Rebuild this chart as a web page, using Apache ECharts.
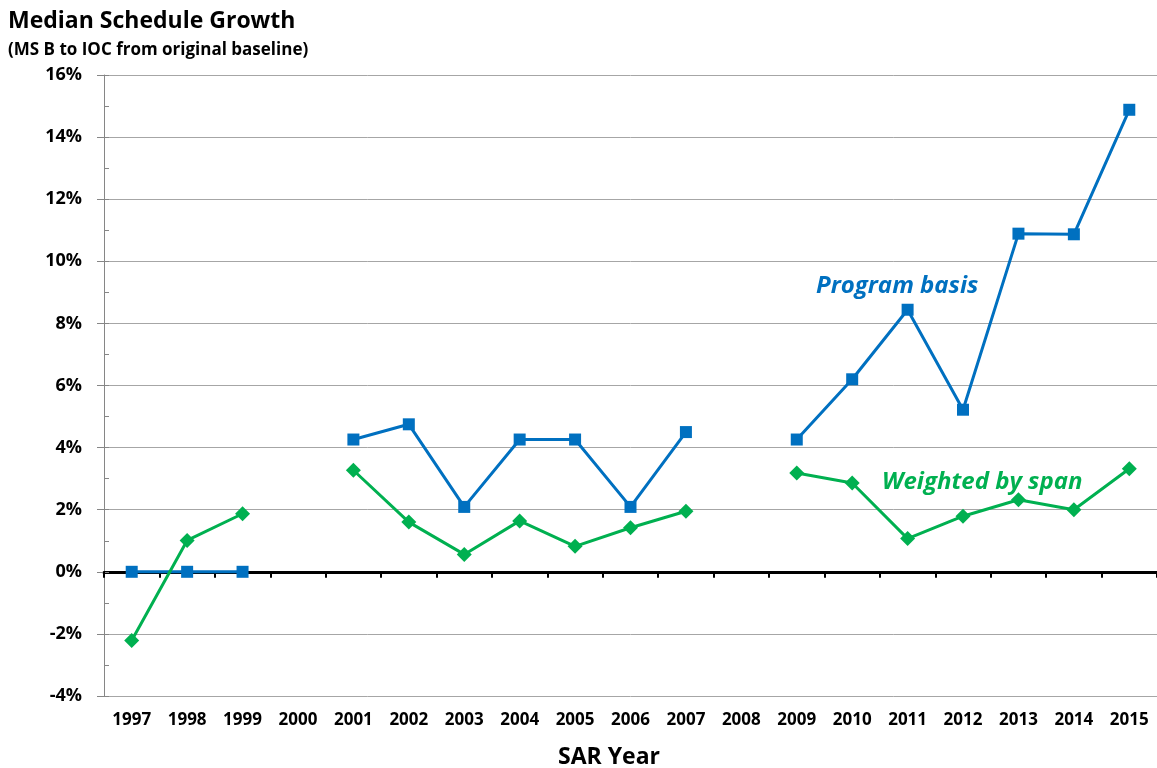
<!DOCTYPE html>
<html>
<head>
<meta charset="utf-8">
<script src="https://cdn.jsdelivr.net/npm/echarts@6/dist/echarts.min.js"></script>
<style>
  html, body { margin: 0; padding: 0; background: #fff; }
  #chart { width: 1157px; height: 768px; }
</style>
</head>
<body>
<div id="chart"></div>
<script>
const years = ['1997', '1998', '1999', '2000', '2001', '2002', '2003', '2004', '2005', '2006',
  '2007', '2008', '2009', '2010', '2011', '2012', '2013', '2014', '2015']
// percent values, null = no data that year
const programBasis = [0, 0, 0, null, 4.26, 4.75, 2.09, 4.26, 4.26, 2.09,
  4.5, null, 4.26, 6.2, 8.44, 5.22, 10.89, 10.87, 14.88]
const weightedBySpan = [-2.21, 1.01, 1.87, null, 3.27, 1.6, 0.56, 1.64, 0.82, 1.42,
  1.95, null, 3.18, 2.86, 1.07, 1.79, 2.32, 2.0, 3.32]

const BLUE = '#0070C0'
const GREEN = '#00B050'
const FONT = '"Open Sans", Lato, sans-serif'

const chart = echarts.init(document.getElementById('chart'), null, { renderer: 'canvas' })

chart.setOption({
  animation: false,
  textStyle: { fontFamily: FONT },
  title: [
    {
      text: 'Median Schedule Growth',
      left: 3,
      top: 5,
      textStyle: { fontFamily: FONT, fontSize: 23, fontWeight: 'bold', color: '#000' }
    },
    {
      text: '(MS B to IOC from original baseline)',
      left: 3,
      top: 37,
      textStyle: { fontFamily: FONT, fontSize: 17, fontWeight: 'bold', color: '#000' }
    },
    {
      text: 'SAR Year',
      left: 553,
      top: 741,
      textStyle: { fontFamily: FONT, fontSize: 23, fontWeight: 'bold', color: '#000' }
    }
  ],
  graphic: [
    {
      type: 'text',
      x: 816,
      y: 286,
      style: { text: 'Program basis', fill: BLUE, font: 'italic bold 24px ' + FONT, verticalAlign: 'middle' }
    },
    {
      type: 'text',
      x: 882,
      y: 482,
      style: { text: 'Weighted by span', fill: GREEN, font: 'italic bold 24px ' + FONT, verticalAlign: 'middle' }
    }
  ],
  grid: { left: 104, right: 0, top: 75, bottom: 72, containLabel: false },
  xAxis: [
    {
      type: 'category',
      data: years,
      position: 'bottom',
      axisLine: { show: false, onZero: false },
      axisTick: { show: false },
      axisLabel: {
        color: '#000',
        fontFamily: FONT,
        fontSize: 17,
        fontWeight: 'bold',
        margin: 16,
        interval: 0
      },
      splitLine: { show: false }
    },
    {
      // black zero line with tick marks at category boundaries
      type: 'category',
      data: years,
      position: 'bottom',
      axisLine: { show: true, onZero: true, onZeroAxisIndex: 0, lineStyle: { color: '#000', width: 3 } },
      axisTick: { show: true, length: 6, lineStyle: { color: '#000', width: 2 } },
      axisLabel: { show: false },
      splitLine: { show: false }
    }
  ],
  yAxis: [
    {
      type: 'value',
      min: -4,
      max: 16,
      interval: 2,
      axisLine: { show: true, lineStyle: { color: '#868686', width: 1 } },
      axisTick: { show: true, length: 7, lineStyle: { color: '#868686' } },
      axisLabel: {
        color: '#000',
        fontFamily: FONT,
        fontSize: 18,
        fontWeight: 'bold',
        margin: 22,
        formatter: (v) => v + '%'
      },
      splitLine: { show: true, lineStyle: { color: '#a6a6a6', width: 1 } }
    },
    {
      // minor ticks drawn inside, as in the original
      type: 'value',
      min: -4,
      max: 16,
      interval: 1,
      position: 'left',
      axisLine: { show: false },
      axisTick: { show: true, inside: true, length: 5, lineStyle: { color: '#868686' } },
      axisLabel: { show: false },
      splitLine: { show: false }
    }
  ],
  series: [
    {
      name: 'Program basis',
      type: 'line',
      xAxisIndex: 0,
      yAxisIndex: 0,
      data: programBasis,
      symbol: 'rect',
      symbolSize: 12,
      showAllSymbol: true,
      lineStyle: { color: BLUE, width: 3 },
      itemStyle: { color: BLUE },
      z: 3
    },
    {
      name: 'Weighted by span',
      type: 'line',
      xAxisIndex: 0,
      yAxisIndex: 0,
      data: weightedBySpan,
      symbol: 'diamond',
      symbolSize: 15,
      showAllSymbol: true,
      lineStyle: { color: GREEN, width: 3 },
      itemStyle: { color: GREEN },
      z: 4
    }
  ]
})
</script>
</body>
</html>
